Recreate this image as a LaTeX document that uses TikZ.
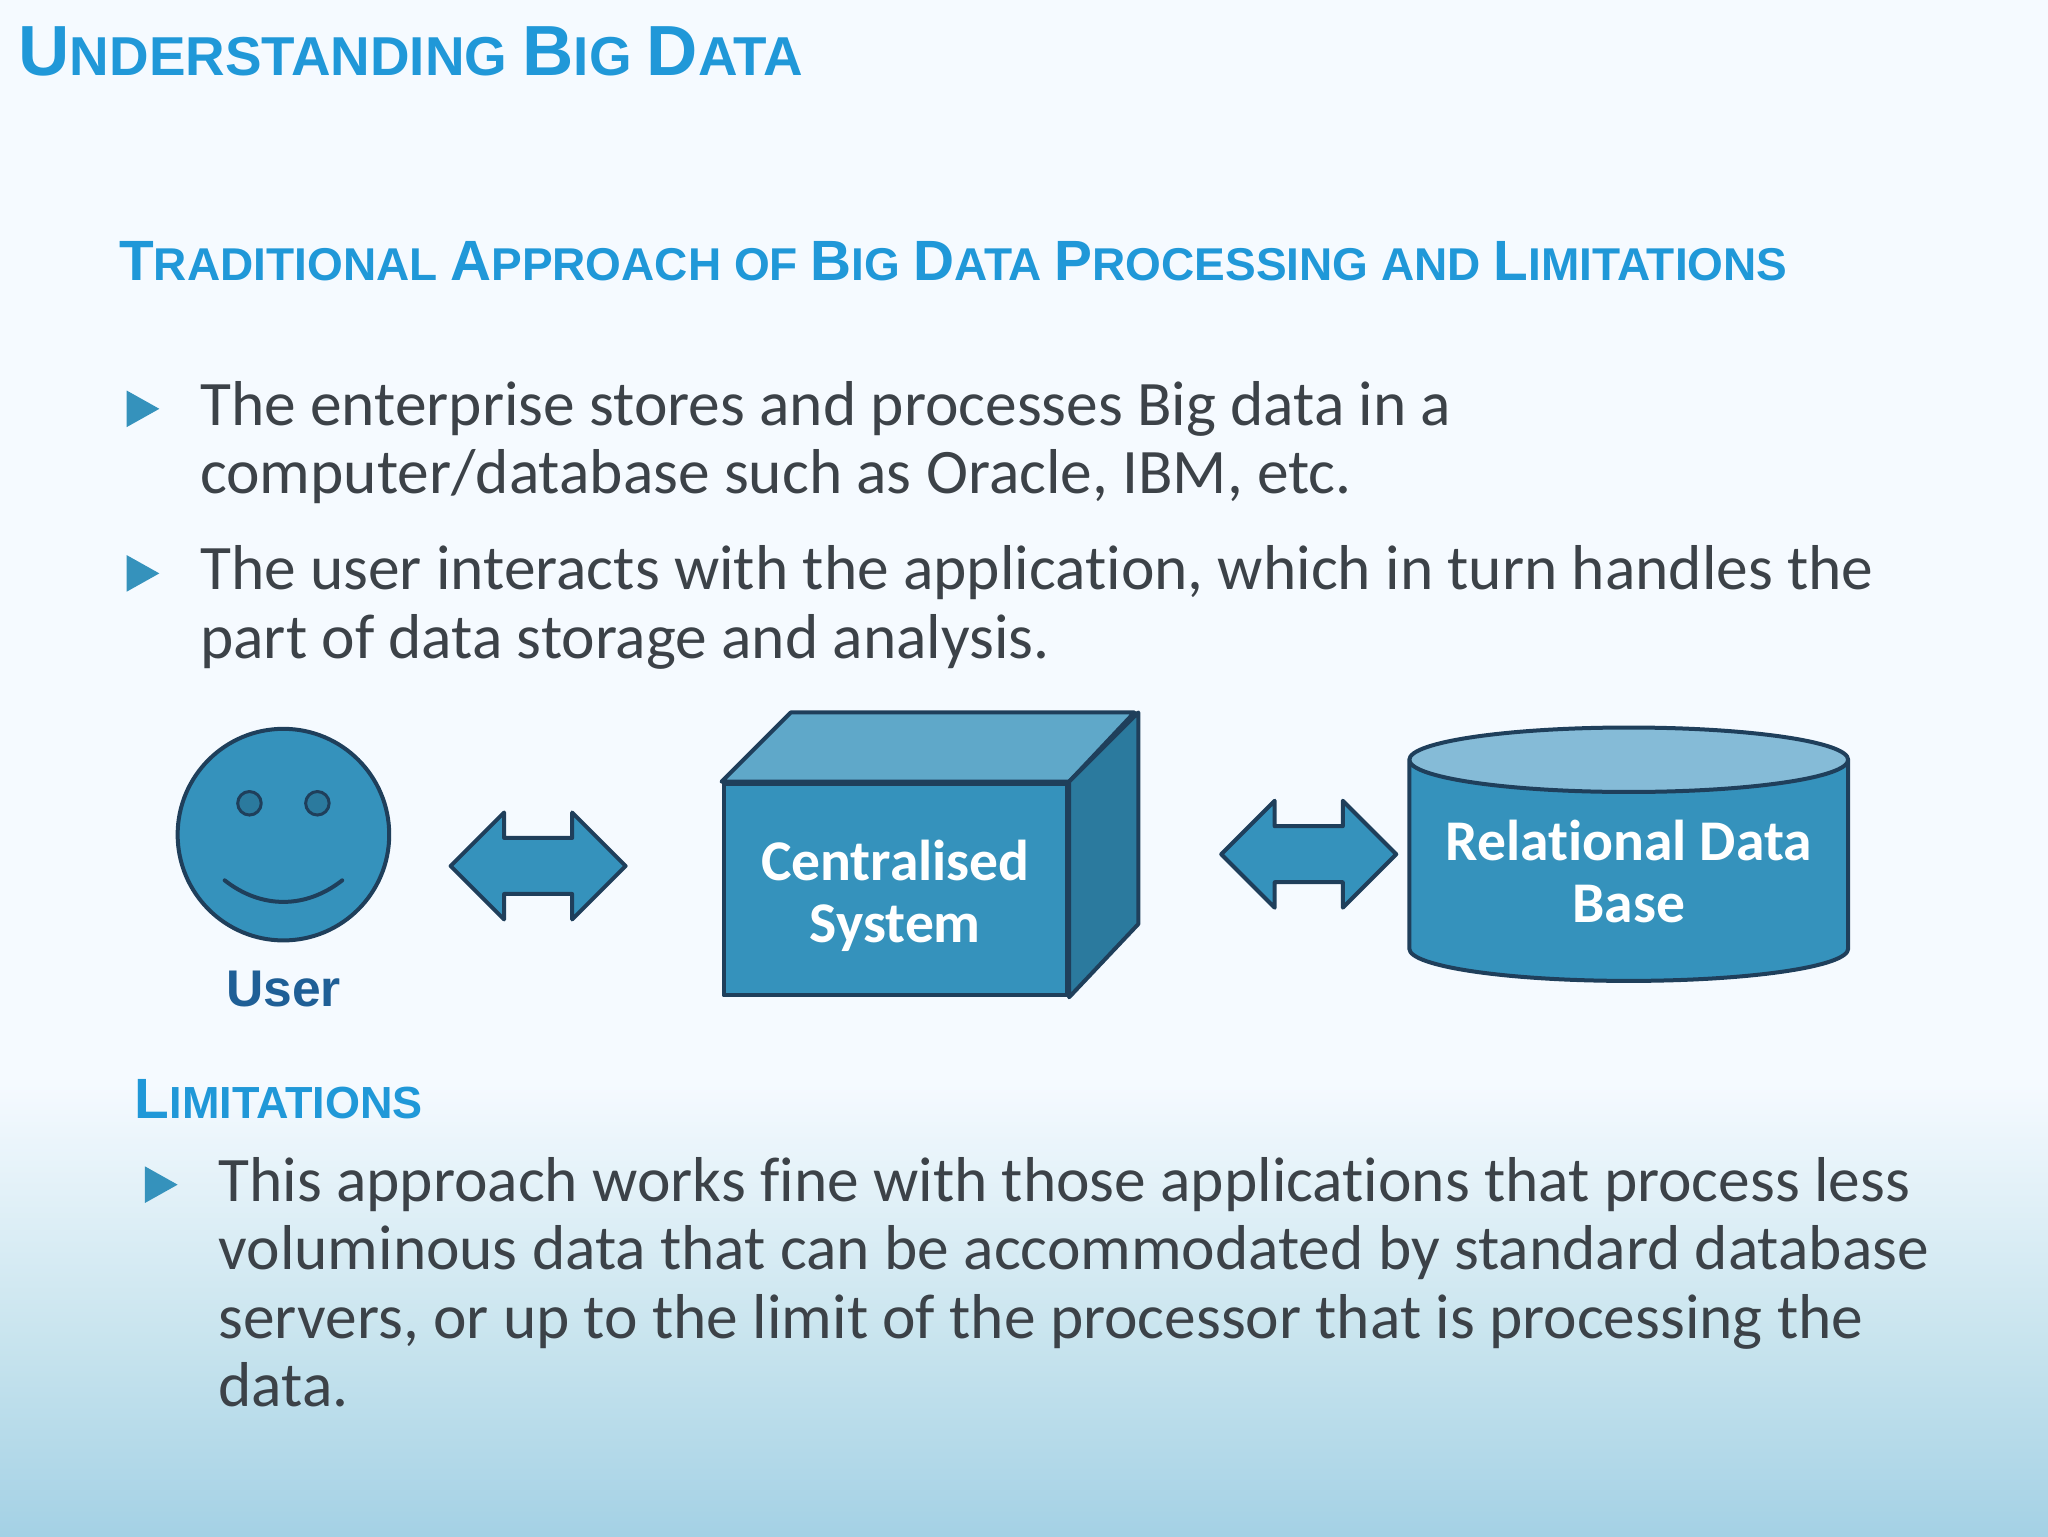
\documentclass[tikz,border=0pt]{standalone}
\usepackage{fontspec}
\setmainfont{Carlito}[Ligatures=NoCommon]
\newfontfamily\headfont{Liberation Sans}[BoldFont={Liberation Sans Bold}]
\usetikzlibrary{
        positioning,
        shapes.arrows,
        shapes.geometric
    }
\definecolor{slideback}{HTML}{F5FAFF}
\definecolor{slidemid}{HTML}{C8E4EE}
\definecolor{slidefoot}{HTML}{A4D1E5}
\definecolor{headblue}{HTML}{2098D8}
\definecolor{bodygrey}{HTML}{3C4248}
\definecolor{shapeblue}{HTML}{3592BC}
\definecolor{shapetop}{HTML}{5FA8C9}
\definecolor{shapeside}{HTML}{2B7A9E}
\definecolor{drumtop}{HTML}{85BBD7}
\definecolor{shapeline}{HTML}{1F3F5B}
\definecolor{userblue}{HTML}{1F5F96}
\newcommand{\capa}[1]{{\fontsize{35.5}{35.5}\selectfont #1}}
\newcommand{\capb}[1]{{\fontsize{28.4}{28.4}\selectfont #1}}
\tikzset{x=0.65306pt,y=-0.65306pt}
\tikzset{headline/.style={anchor=base west,inner sep=0pt,text=headblue,font=\headfont\bfseries\fontsize{27.4}{27.4}\selectfont}}
\tikzset{subheadline/.style={headline,font=\headfont\bfseries\fontsize{23}{23}\selectfont}}
\tikzset{bodytext/.style={anchor=base west,inner sep=0pt,align=left,text=bodygrey,font=\fontsize{31.7}{34.2}\selectfont}}
\tikzset{bullet/.style={fill=shapeblue}}
\tikzset{solid shape/.style={draw=shapeline,fill=shapeblue,line width=2pt,line join=round}}
\tikzset{shape text/.style={text=white,align=center,font=\bfseries\fontsize{28.8}{31}\selectfont}}
\tikzset{both way/.style={solid shape,double arrow,inner xsep=0pt,inner ysep=13pt,minimum width=78*0.65306pt,minimum height=134*0.65306pt,double arrow head extend=19.5*0.65306pt,double arrow tip angle=90}}
\begin{document}
\begin{tikzpicture}
            \useasboundingbox (0,0) rectangle (1568,1176);
            \fill[slideback] (0,0) rectangle (1568,830);
            \shade[top color=slideback,bottom color=slidemid] (0,830) rectangle (1568,1026);
            \shade[top color=slidemid,bottom color=slidefoot] (0,1026) rectangle (1568,1176);

            \node[headline] (title) at (14,58) {\capa{U}NDERSTANDING \capa{B}IG \capa{D}ATA};
            \node[subheadline] (approach) at (91,215) {\capb{T}RADITIONAL \capb{A}PPROACH OF \capb{B}IG \capb{D}ATA \capb{P}ROCESSING AND \capb{L}IMITATIONS};
            \node[bodytext] (first) at (153,378) {The enterprise stores and processes Big data in a\\computer/database such as Oracle, IBM, etc.};
            \node[bodytext] (second) at (153,504) {The user interacts with the application, which in turn handles the\\part of data storage and analysis.};
            \node[subheadline,font=\headfont\bfseries\fontsize{22.5}{22.5}\selectfont] (limits) at (103,856) {\capb{L}IMITATIONS};
            \node[bodytext] (third) at (167,1077) {This approach works fine with those applications that process less\\voluminous data that can be accommodated by standard database\\servers, or up to the limit of the processor that is processing the\\data.};

            \foreach \y in {313,439,907}
                \fill[bullet] ({\y==907 ? 111 : 97},\y-14) -- ++(25,14) -- ++(-25,14) -- cycle;

            \node[solid shape,circle,minimum size=162*0.65306pt,inner sep=0pt] (face) at (217,639) {};
            \node[solid shape,circle,fill=shapeside,minimum size=18*0.65306pt,inner sep=0pt,line width=1.5pt] (lefteye) at (191,615) {};
            \node[solid shape,circle,fill=shapeside,minimum size=18*0.65306pt,inner sep=0pt,line width=1.5pt] (righteye) at (243,615) {};
            \coordinate (smilel) at (172,674);
            \coordinate (smiler) at (262,674);
            \draw[shapeline,line width=2pt,line cap=round] (smilel) .. controls (200,696) and (234,696) .. (smiler);
            \node[inner sep=0pt,text=userblue,font=\headfont\bfseries\fontsize{25.8}{25.8}\selectfont] (user) [below=14pt of face] {User};

            \node[both way] (userarrow) at (412,663) {};

            \node[solid shape,minimum width=263*0.65306pt,minimum height=162*0.65306pt,inner sep=0pt] (system) at (685.5,681) {};
            \draw[solid shape,fill=shapetop] (system.north west) -- ++(53,-53) -- ++(263,0) -- (system.north east) -- cycle;
            \draw[solid shape,fill=shapeside] (system.north east) -- ++(53,-53) -- ++(0,162) -- (system.south east) -- cycle;
            \node[shape text] (systemtext) at ([yshift=-3pt]system.center) {Centralised\\System};

            \node[both way] (basearrow) at (1002,654) {};

            \node[solid shape,shape text,fill=none,cylinder,anchor=shape center,shape border rotate=90,aspect=0.176,minimum width=336*0.65306pt,minimum height=194*0.65306pt,inner sep=0pt,cylinder uses custom fill,cylinder body fill=shapeblue,cylinder end fill=drumtop] (database) at (1247,654) {Relational Data\\Base};
        \end{tikzpicture}
\end{document}
